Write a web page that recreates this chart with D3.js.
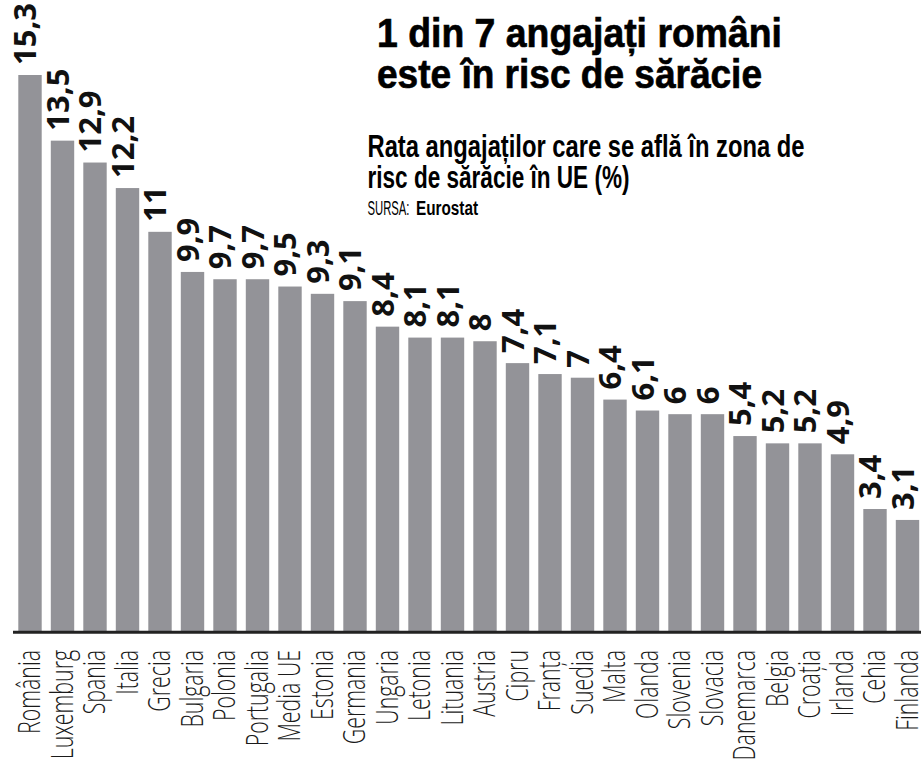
<!DOCTYPE html>
<html>
<head>
<meta charset="utf-8">
<script src="https://cdn.jsdelivr.net/npm/d3@7"></script>
<style>
  html, body { margin: 0; padding: 0; background: #ffffff; }
  svg { display: block; }
</style>
</head>
<body>
<svg id="chart" width="921" height="765"></svg>
<script>
// ---- data ----
const categories = ["România", "Luxemburg", "Spania", "Italia", "Grecia", "Bulgaria", "Polonia",
  "Portugalia", "Media UE", "Estonia", "Germania", "Ungaria", "Letonia", "Lituania", "Austria",
  "Cipru", "Franța", "Suedia", "Malta", "Olanda", "Slovenia", "Slovacia", "Danemarca", "Belgia",
  "Croația", "Irlanda", "Cehia", "Finlanda"];
const values = [15.3, 13.5, 12.9, 12.2, 11, 9.9, 9.7, 9.7, 9.5, 9.3, 9.1, 8.4, 8.1, 8.1, 8, 7.4,
  7.1, 7, 6.4, 6.1, 6, 6, 5.4, 5.2, 5.2, 4.9, 3.4, 3.1];
const titleLines = ["1 din 7 angajați români", "este în risc de sărăcie"];
const subtitleLines = ["Rata angajaților care se află în zona de", "risc de sărăcie în UE (%)"];
const sourceLabel = "SURSA:";
const sourceName = "Eurostat";

const data = categories.map((c, i) => ({ cat: c, val: values[i] }));

const svg = d3.select("#chart");
const fmt = d3.formatLocale({ decimal: ",", thousands: ".", grouping: [3], currency: ["", ""] }).format("~g");

const x = d3.scaleBand().domain(categories).range([18.3, 919.2]).paddingInner(0.28).paddingOuter(0);
const y = d3.scaleLinear().domain([0, 15.3]).range([633, 75]);

// bars
svg.append("g").selectAll("rect").data(data).join("rect")
  .attr("x", d => x(d.cat))
  .attr("y", d => y(d.val))
  .attr("width", x.bandwidth())
  .attr("height", d => y(0) - y(d.val))
  .attr("fill", "#939398");

// baseline axis
const axisG = svg.append("g").attr("transform", `translate(0,${y(0) - 0.7})`);
axisG.call(d3.axisBottom(x).tickSize(0).tickFormat(""));
axisG.select(".domain").attr("d", "M13,0H921").attr("stroke", "#222").attr("stroke-width", 3);

// value labels
svg.append("g").selectAll("text").data(data).join("text")
  .attr("transform", d => `translate(${x(d.cat) + x.bandwidth() / 2 + 6},${y(d.val) - 10}) rotate(-90)`)
  .attr("text-anchor", "start")
  .style("font-family", "'Open Sans', 'DejaVu Sans', sans-serif")
  .style("font-weight", 700)
  .style("font-size", "31px")
  .attr("fill", "#111")
  .text(d => fmt(d.val));

// category labels
const catG = svg.append("g");
const catTexts = catG.selectAll("text").data(data).join("text")
  .attr("text-anchor", "end")
  .style("font-family", "'Open Sans', 'Noto Sans', sans-serif")
  .style("font-weight", 300)
  .style("font-size", "31px")
  .attr("fill", "#1a1a1a")
  .text(d => d.cat);
const refLen = catTexts.nodes()[0].getComputedTextLength();
const k = refLen > 0 ? 84 / refLen : 0.7;
catTexts.attr("transform", d => `translate(${x(d.cat) + x.bandwidth() / 2 + 10},650) rotate(-90) scale(${k},1)`);

// titles
const tg = svg.append("g");
tg.selectAll("text.title").data(titleLines).join("text")
  .attr("class", "title")
  .attr("x", 377)
  .attr("y", (d, i) => 46.7 + i * 41.6)
  .attr("textLength", (d, i) => i === 0 ? 405 : 385)
  .attr("lengthAdjust", "spacingAndGlyphs")
  .style("font-family", "'Liberation Sans', Arial, sans-serif")
  .style("font-weight", 700)
  .style("font-size", "41px")
  .attr("fill", "#000")
  .attr("stroke", "#000")
  .attr("stroke-width", 0.7)
  .text(d => d);

tg.selectAll("text.sub").data(subtitleLines).join("text")
  .attr("class", "sub")
  .attr("x", 367.5)
  .attr("y", (d, i) => 156.7 + i * 31.6)
  .attr("textLength", (d, i) => i === 0 ? 437 : 262)
  .attr("lengthAdjust", "spacingAndGlyphs")
  .style("font-family", "'Liberation Sans Narrow', 'Liberation Sans', sans-serif")
  .style("font-weight", 700)
  .style("font-size", "31px")
  .attr("fill", "#000")
  .text(d => d);

tg.append("text")
  .attr("x", 367.5)
  .attr("y", 215)
  .attr("textLength", 42)
  .attr("lengthAdjust", "spacingAndGlyphs")
  .style("font-family", "'Liberation Sans Narrow', 'Liberation Sans', sans-serif")
  .style("font-weight", 400)
  .style("font-size", "20px")
  .attr("fill", "#000")
  .text(sourceLabel);
tg.append("text")
  .attr("x", 416)
  .attr("y", 215)
  .attr("textLength", 62)
  .attr("lengthAdjust", "spacingAndGlyphs")
  .style("font-family", "'Liberation Sans Narrow', 'Liberation Sans', sans-serif")
  .style("font-weight", 700)
  .style("font-size", "20px")
  .attr("fill", "#000")
  .text(sourceName);
</script>
</body>
</html>
